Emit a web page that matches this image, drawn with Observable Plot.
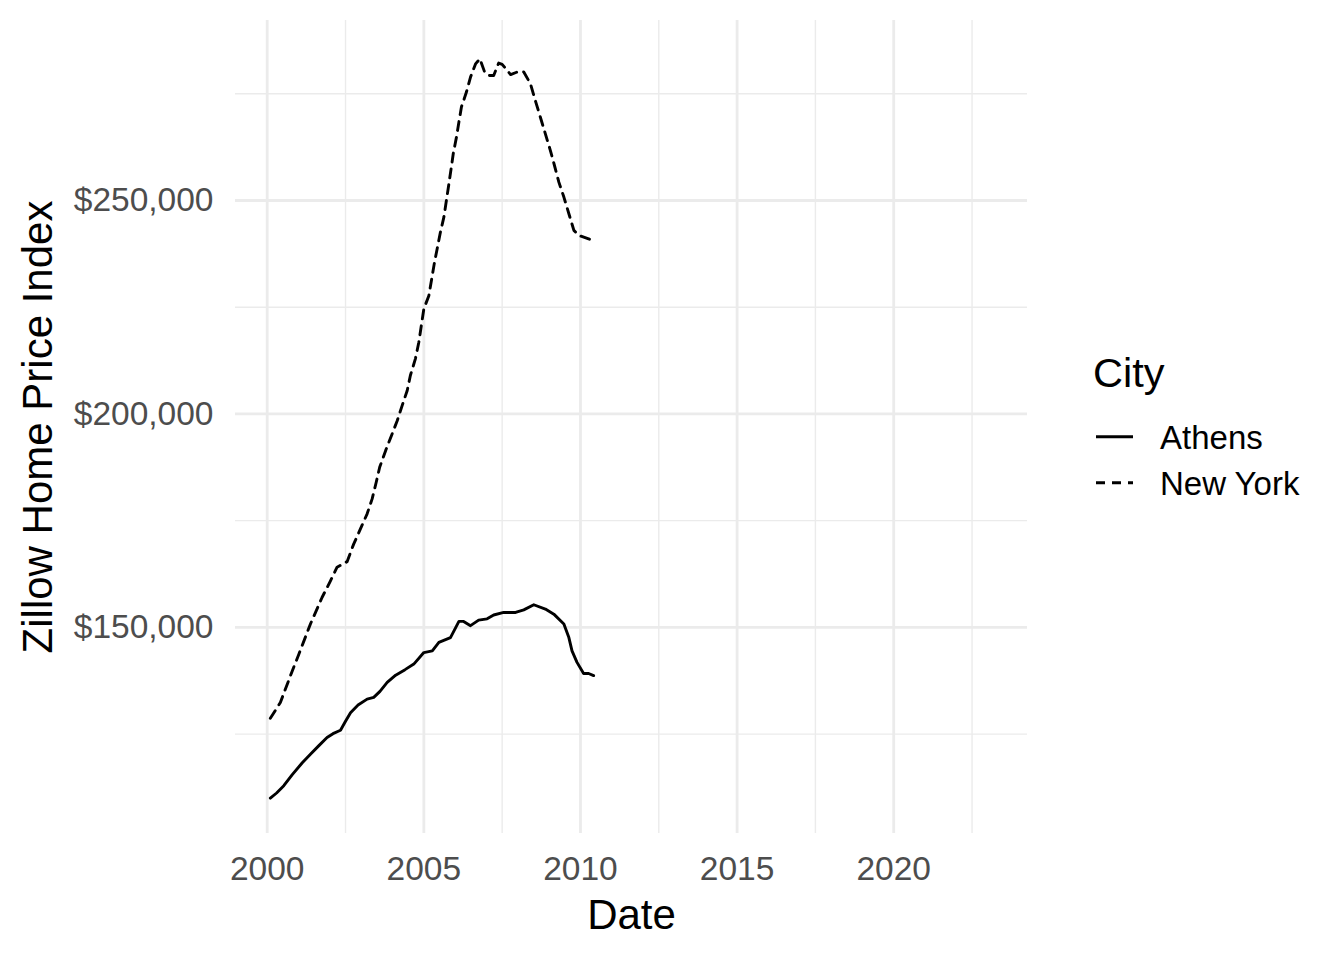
<!DOCTYPE html>
<html><head><meta charset="utf-8">
<script src="https://cdn.jsdelivr.net/npm/d3@7"></script>
<script src="https://cdn.jsdelivr.net/npm/@observablehq/plot@0.6"></script>
<style>
body{margin:0;background:#fff;font-family:"Liberation Sans",Arial,sans-serif;}
#wrap{position:relative;width:1344px;height:960px;overflow:hidden;}
#legend{position:absolute;left:1060px;top:340px;}
</style></head><body><div id="wrap"></div>
<script>
// ---- data ----
const cities = ["Athens", "New York"];
const athensYear = [2000.1, 2000.3, 2000.53, 2000.8, 2001.12, 2001.38, 2001.65, 2001.91, 2002.1, 2002.34, 2002.5, 2002.66, 2002.9, 2003.19, 2003.4, 2003.6, 2003.83, 2004.1, 2004.4, 2004.68, 2005.0, 2005.27, 2005.48, 2005.85, 2005.95, 2006.12, 2006.27, 2006.49, 2006.75, 2007.02, 2007.23, 2007.55, 2007.93, 2008.19, 2008.51, 2008.88, 2009.15, 2009.47, 2009.63, 2009.73, 2009.89, 2010.1, 2010.26, 2010.42];
const athensValue = [110000, 111200, 112900, 115500, 118300, 120300, 122300, 124200, 125100, 125900, 128000, 130000, 131800, 133200, 133600, 135000, 137100, 138800, 140100, 141400, 144100, 144500, 146500, 147600, 149000, 151400, 151400, 150400, 151700, 152000, 152900, 153500, 153500, 154100, 155300, 154300, 153100, 150800, 147600, 144500, 141800, 139200, 139200, 138700];
const nyYear = [2000.1, 2000.42, 2000.8, 2001.01, 2001.38, 2001.75, 2002.02, 2002.23, 2002.55, 2002.76, 2003.19, 2003.35, 2003.48, 2003.59, 2003.78, 2004.15, 2004.31, 2004.47, 2004.57, 2004.73, 2004.84, 2005.0, 2005.16, 2005.34, 2005.53, 2005.64, 2005.72, 2005.8, 2005.87, 2005.94, 2006.04, 2006.12, 2006.2, 2006.36, 2006.49, 2006.65, 2006.79, 2006.94, 2007.07, 2007.23, 2007.39, 2007.5, 2007.77, 2007.98, 2008.19, 2008.4, 2008.56, 2008.72, 2008.88, 2009.04, 2009.17, 2009.31, 2009.47, 2009.63, 2009.79, 2009.95, 2010.26, 2010.42];
const nyValue = [128700, 132400, 139800, 143700, 150800, 157000, 160900, 164100, 165400, 169500, 176600, 180100, 184000, 187500, 191400, 198400, 202000, 205500, 209000, 212900, 216800, 224600, 227700, 235500, 242600, 246100, 250000, 253900, 257400, 261000, 264800, 268400, 271900, 275400, 278900, 282000, 283200, 280100, 279300, 279300, 282200, 281900, 279500, 280100, 280100, 277400, 273400, 269500, 265600, 261700, 258200, 254300, 250800, 246900, 243000, 241800, 241000, 240600];
const xTicks = [2000, 2005, 2010, 2015, 2020];
const xMinor = [2002.5, 2007.5, 2012.5, 2017.5, 2022.5];
const yTicks = [150000, 200000, 250000];
const yMinor = [125000, 175000, 225000, 275000];
const xTitle = "Date";
const yTitle = "Zillow Home Price Index";
const legendTitle = "City";

const athens = athensYear.map((x, i) => ({city: cities[0], date: x, value: athensValue[i]}));
const ny = nyYear.map((x, i) => ({city: cities[1], date: x, value: nyValue[i]}));

const font = '"Liberation Sans", Arial, sans-serif';
const grid = "#EBEBEB";
const dash = "9,7";
const lw = 2.9;

const chart = Plot.plot({
  width: 1344, height: 960,
  marginLeft: 235, marginRight: 317, marginTop: 20, marginBottom: 127,
  style: {fontFamily: font, background: "#fff", overflow: "visible"},
  x: {type: "linear", domain: [1998.988, 2024.27]},
  y: {type: "linear", domain: [101713, 292167]},
  marks: [
    Plot.gridX(xMinor, {stroke: grid, strokeOpacity: 1, strokeWidth: 1.4}),
    Plot.gridY(yMinor, {stroke: grid, strokeOpacity: 1, strokeWidth: 1.4}),
    Plot.gridX(xTicks, {stroke: grid, strokeOpacity: 1, strokeWidth: 2.8}),
    Plot.gridY(yTicks, {stroke: grid, strokeOpacity: 1, strokeWidth: 2.8}),
    Plot.line(athens, {x: "date", y: "value", stroke: "black", strokeWidth: lw}),
    Plot.line(ny, {x: "date", y: "value", stroke: "black", strokeWidth: lw, strokeDasharray: dash}),
    Plot.axisX(xTicks, {tickSize: 0, tickPadding: 23, fontSize: 33.5, color: "#4D4D4D", tickFormat: d => String(d), label: null}),
    Plot.axisY(yTicks, {tickSize: 0, tickPadding: 22, fontSize: 33.5, color: "#4D4D4D", tickFormat: d => "$" + d3.format(",")(d), label: null}),
    Plot.text([xTitle], {text: d => d, frameAnchor: "bottom", lineAnchor: "middle", textAnchor: "middle", dy: 82.5, fontSize: 42, fill: "black"}),
    Plot.text([yTitle], {text: d => d, frameAnchor: "left", lineAnchor: "middle", textAnchor: "middle", rotate: -90, dx: -197, fontSize: 42, fill: "black"})
  ]
});
const wrap = document.getElementById("wrap");
wrap.appendChild(chart);

// ---- legend ----
const lg = d3.select(wrap).append("svg").attr("id", "legend")
  .attr("width", 284).attr("height", 180)
  .style("font-family", font);
lg.append("text").attr("x", 33).attr("y", 47).attr("font-size", 41.5).attr("fill", "black").text(legendTitle);
cities.forEach((c, i) => {
  const yy = 96.7 + i * 46;
  lg.append("line").attr("x1", 36).attr("x2", 73).attr("y1", yy).attr("y2", yy)
    .attr("stroke", "black").attr("stroke-width", lw)
    .attr("stroke-dasharray", i === 1 ? dash : null);
  lg.append("text").attr("x", 100).attr("y", yy + 12.3).attr("font-size", 33).attr("fill", "black").text(c);
});
</script></body></html>
